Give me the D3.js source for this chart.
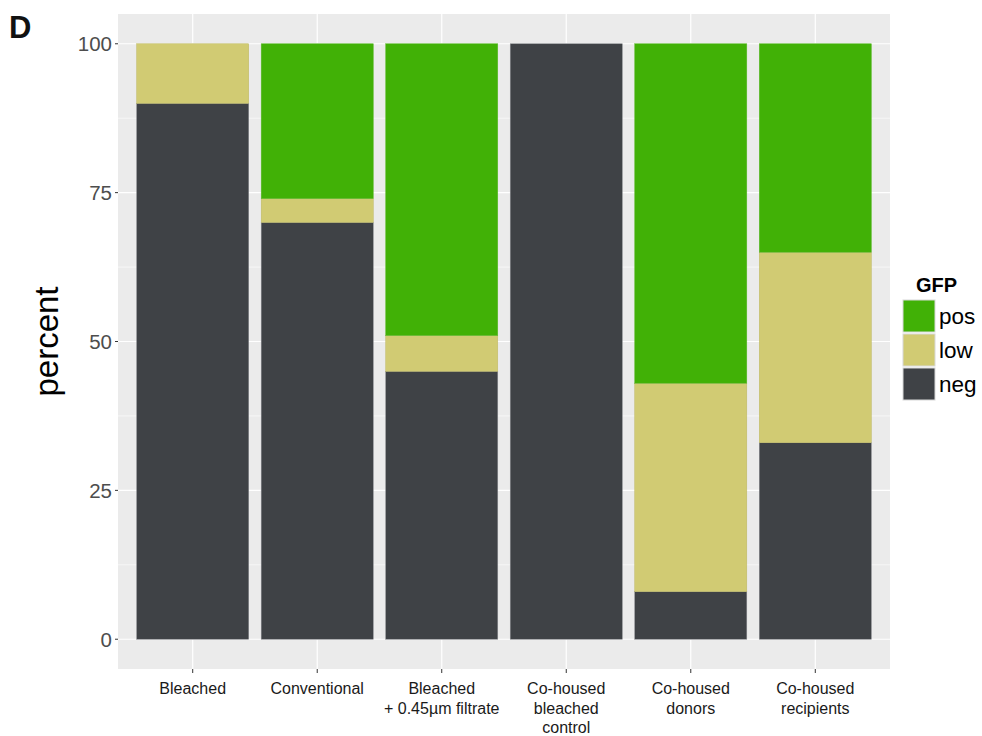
<!DOCTYPE html>
<html><head><meta charset="utf-8">
<script src="https://cdn.jsdelivr.net/npm/d3@7"></script>
<style>body{margin:0;background:#fff;} svg{display:block;font-family:"Liberation Sans",Arial,sans-serif;}</style>
</head><body>
<svg id="c" width="982" height="736"></svg>
<script>
const categories = ["Bleached", "Conventional", "Bleached\n+ 0.45\u00b5m filtrate", "Co-housed\nbleached\ncontrol", "Co-housed\ndonors", "Co-housed\nrecipients"];
const negValues = [90, 70, 45, 100, 8, 33];
const lowValues = [10, 4, 6, 0, 35, 32];
const posValues = [0, 26, 49, 0, 57, 35];
const seriesNames = ["neg", "low", "pos"];
const legendOrder = ["pos", "low", "neg"];
const colors = {pos: "#41B106", low: "#D1CB73", neg: "#3F4246"};
const yTicks = [0, 25, 50, 75, 100];

const svg = d3.select("#c");
const M = {left: 118, right: 890, top: 14, bottom: 669};
const x = d3.scalePoint().domain(categories).range([M.left, M.right]).padding(0.6);
const xc = d => x(d);
const bw = x.step() * 0.9;
const y = d3.scaleLinear().domain([-5, 105]).range([M.bottom, M.top]);

svg.append("rect").attr("x", M.left).attr("y", M.top).attr("width", M.right - M.left).attr("height", M.bottom - M.top).attr("fill", "#EBEBEB");
const minor = [12.5, 37.5, 62.5, 87.5];
svg.selectAll(".mn").data(minor).enter().append("line").attr("x1", M.left).attr("x2", M.right)
  .attr("y1", d => y(d)).attr("y2", d => y(d)).attr("stroke", "#fff").attr("stroke-width", 0.6);
svg.selectAll(".mj").data(yTicks).enter().append("line").attr("x1", M.left).attr("x2", M.right)
  .attr("y1", d => y(d)).attr("y2", d => y(d)).attr("stroke", "#fff").attr("stroke-width", 1.2);
svg.selectAll(".vx").data(categories).enter().append("line").attr("y1", M.top).attr("y2", M.bottom)
  .attr("x1", d => xc(d)).attr("x2", d => xc(d)).attr("stroke", "#fff").attr("stroke-width", 1.2);

const rows = categories.map((c, i) => ({cat: c, neg: negValues[i], low: lowValues[i], pos: posValues[i]}));
const stack = d3.stack().keys(seriesNames)(rows);
const g = svg.append("g");
stack.forEach(s => {
  g.selectAll(null).data(s.filter(d => d[1] - d[0] > 0)).enter().append("rect")
    .attr("x", d => xc(d.data.cat) - bw / 2).attr("width", bw)
    .attr("y", d => y(d[1])).attr("height", d => y(d[0]) - y(d[1]))
    .attr("fill", colors[s.key]).attr("stroke", s.key === "neg" ? "#8a8c90" : (s.key === "low" ? "#bdb865" : "#5cb82c")).attr("stroke-width", 0.5);
});

svg.selectAll(".yt").data(yTicks).enter().append("line").attr("x1", M.left - 3).attr("x2", M.left)
  .attr("y1", d => y(d)).attr("y2", d => y(d)).attr("stroke", "#333").attr("stroke-width", 1);
svg.selectAll(".yl").data(yTicks).enter().append("text").attr("x", M.left - 6).attr("y", d => y(d))
  .attr("dy", "0.36em").attr("text-anchor", "end").attr("font-size", 20.5).attr("fill", "#4D4D4D").text(d => d);
svg.selectAll(".xt").data(categories).enter().append("line").attr("y1", M.bottom).attr("y2", M.bottom + 4)
  .attr("x1", d => xc(d)).attr("x2", d => xc(d)).attr("stroke", "#333").attr("stroke-width", 1);
const xl = svg.selectAll(".xl").data(categories).enter().append("text").attr("text-anchor", "middle")
  .attr("font-size", 16).attr("fill", "#1a1a1a");
xl.each(function(d) {
  const t = d3.select(this);
  d.split("\n").forEach((ln, i) => t.append("tspan").attr("x", xc(d)).attr("y", 694 + i * 19.5).text(ln));
});

svg.append("text").attr("transform", "translate(58," + y(50) + ") rotate(-90)").attr("text-anchor", "middle")
  .attr("font-size", 33).attr("fill", "#000").text("percent");
svg.append("text").attr("x", 9).attr("y", 38).attr("font-size", 31).attr("font-weight", "bold").attr("fill", "#111").text("D");

svg.append("text").attr("x", 916).attr("y", 292).attr("font-size", 20).attr("font-weight", "bold").attr("fill", "#000").text("GFP");
legendOrder.forEach((k, i) => {
  svg.append("rect").attr("x", 903).attr("y", 300 + i * 34).attr("width", 32).attr("height", 32)
    .attr("fill", colors[k]).attr("stroke", "#d8d8d8").attr("stroke-width", 1);
  svg.append("text").attr("x", 939).attr("y", 316 + i * 34).attr("dy", "0.35em").attr("font-size", 22.5).attr("fill", "#000").text(k);
});
</script>
</body></html>
